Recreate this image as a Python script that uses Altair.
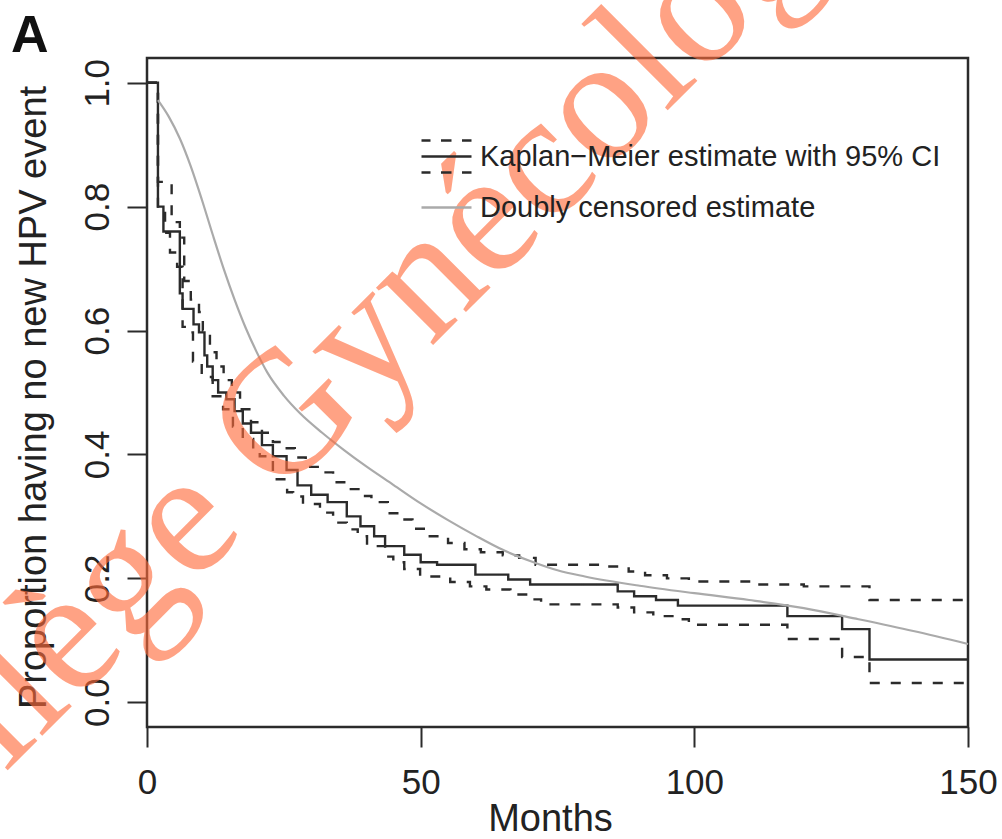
import altair as alt
import pandas as pd

KM_LABEL = "Kaplan−Meier estimate with 95% CI"
DC_LABEL = "Doubly censored estimate"

# Kaplan-Meier estimate: month of each step and the survival value after it
km_months = [0, 2, 3, 6, 6.5, 8.5, 9.5, 10.5, 11, 12, 13, 14.5, 16, 17.5, 19, 21, 23, 25.5,
             27.5, 30, 33, 36.5, 39, 41.5, 43.5, 47, 50, 53, 60, 66, 70, 86, 89, 93, 97, 117,
             127, 132, 150]
km_surv = [1.0, 0.80, 0.76, 0.66, 0.635, 0.61, 0.597, 0.56, 0.542, 0.52, 0.50, 0.489, 0.47,
           0.45, 0.435, 0.415, 0.397, 0.375, 0.35, 0.335, 0.323, 0.30, 0.284, 0.268, 0.252,
           0.238, 0.226, 0.222, 0.206, 0.198, 0.19, 0.179, 0.171, 0.165, 0.156, 0.139, 0.118,
           0.069, 0.069]

# Upper 95% confidence band
ci_hi_months = [0, 2, 4.5, 6, 6.8, 8, 9.5, 10.2, 11.5, 12.7, 14, 15.5, 17, 19, 21, 23, 25, 27,
                29, 31.5, 34, 36.5, 39, 41, 44, 46, 48.5, 51, 55, 58, 61, 65, 68, 71, 84, 88,
                91, 95, 99, 110, 120, 132, 150]
ci_hi = [1.0, 0.84, 0.775, 0.75, 0.68, 0.65, 0.63, 0.60, 0.565, 0.542, 0.52, 0.50, 0.473,
         0.452, 0.435, 0.42, 0.41, 0.395, 0.38, 0.371, 0.355, 0.344, 0.333, 0.323, 0.305,
         0.295, 0.28, 0.268, 0.257, 0.247, 0.242, 0.237, 0.233, 0.222, 0.219, 0.211, 0.205,
         0.20, 0.195, 0.19, 0.187, 0.165, 0.165]

# Lower 95% confidence band
ci_lo_months = [0, 2, 3.3, 4.2, 5.5, 6.5, 7.5, 8.4, 10, 12, 13.9, 15.7, 17.5, 19.4, 20.6, 23,
                25.6, 26.7, 28.5, 31.6, 34, 36.5, 38.5, 40.2, 43.5, 45, 47, 49.9, 55.4, 59, 62,
                66.4, 69.5, 72, 86, 89, 92.5, 96, 99, 117, 127, 132, 150]
ci_lo = [1.0, 0.79, 0.758, 0.726, 0.703, 0.606, 0.597, 0.55, 0.525, 0.494, 0.473, 0.445,
         0.425, 0.408, 0.397, 0.36, 0.339, 0.332, 0.32, 0.306, 0.29, 0.279, 0.268, 0.252,
         0.235, 0.226, 0.215, 0.203, 0.194, 0.187, 0.182, 0.174, 0.166, 0.158, 0.153, 0.145,
         0.139, 0.134, 0.125, 0.102, 0.073, 0.031, 0.031]

# Smooth doubly censored estimate
dc_months = [2, 4, 6, 8, 10, 12, 14, 16, 18, 20, 22, 25, 28, 32, 36, 40, 45, 50, 55, 60, 65,
             70, 75, 80, 90, 100, 110, 120, 130, 140, 150]
dc_surv = [0.972, 0.945, 0.91, 0.865, 0.812, 0.755, 0.70, 0.65, 0.605, 0.566, 0.532, 0.495,
           0.466, 0.435, 0.407, 0.381, 0.351, 0.321, 0.294, 0.269, 0.246, 0.228, 0.213, 0.203,
           0.188, 0.176, 0.165, 0.152, 0.134, 0.115, 0.094]

x_ticks = [0, 50, 100, 150]
y_ticks = [0.0, 0.2, 0.4, 0.6, 0.8, 1.0]

FONT = "Liberation Sans"
INK = "#2b2b2b"
GREY = "#aaaaaa"

km_df = pd.concat([
    pd.DataFrame({"month": km_months, "value": km_surv, "part": "estimate"}),
    pd.DataFrame({"month": ci_hi_months, "value": ci_hi, "part": "upper"}),
    pd.DataFrame({"month": ci_lo_months, "value": ci_lo, "part": "lower"}),
])
km_df["series"] = KM_LABEL
dc_df = pd.DataFrame({"month": dc_months, "value": dc_surv, "series": DC_LABEL})

# legend glyphs: solid line framed by two dashed lines, and a plain line
KM_PATH = ("M-1,-0.64H-0.64M-0.22,-0.64H0.2M0.62,-0.64H1"
           "M-1,0H1"
           "M-1,0.64H-0.64M-0.22,0.64H0.2M0.62,0.64H1")
DC_PATH = "M-1,0H1"

x_enc = alt.X("month:Q", scale=alt.Scale(domain=[0, 150], nice=False, zero=False),
              axis=alt.Axis(values=x_ticks, format="d", title="Months", grid=False,
                            domain=False, tickSize=20, tickWidth=2, tickColor=INK,
                            labelFont=FONT, labelFontSize=35, labelColor="#222",
                            labelBaseline="alphabetic", labelPadding=46,
                            labelFlush=False, labelOverlap=False, labelBound=False,
                            titleFont=FONT, titleFontSize=38, titleFontWeight="normal",
                            titleColor="#222", titleBaseline="alphabetic",
                            titleX=403, titleY=103, titleAlign="center"))
y_enc = alt.Y("value:Q", scale=alt.Scale(domain=[-0.04, 1.04], nice=False, zero=False),
              axis=alt.Axis(values=y_ticks, format=".1f",
                            title="Proportion having no new HPV event", grid=False,
                            domain=False, tickSize=20, tickWidth=2, tickColor=INK,
                            labelFont=FONT, labelFontSize=35, labelColor="#222",
                            labelAngle=270, labelAlign="center", labelBaseline="alphabetic",
                            labelPadding=19, labelFlush=False, labelOverlap=False,
                            titleFont=FONT, titleFontSize=38, titleFontWeight="normal",
                            titleColor="#222", titleAngle=270, titleBaseline="alphabetic",
                            titleAlign="center", titleX=-102, titleY=339))


def legend_at(y, path):
    return alt.Legend(
        title=None, orient="none", legendX=273, legendY=y, padding=0,
        symbolType=path, symbolSize=2500, symbolStrokeWidth=2.4,
        labelFont=FONT, labelFontSize=29, labelColor="#222", labelOffset=7,
        labelLimit=0,
    )


km = alt.Chart(km_df).mark_line(interpolate="step-after", strokeWidth=2.4).encode(
    x=x_enc, y=y_enc,
    stroke=alt.Stroke("series:N", scale=alt.Scale(domain=[KM_LABEL], range=[INK]),
                      legend=legend_at(72, KM_PATH)),
    strokeDash=alt.StrokeDash("part:N",
                              scale=alt.Scale(domain=["estimate", "upper", "lower"],
                                              range=[[1, 0], [10, 11], [10, 11]]),
                              legend=None),
    detail="part:N",
)

dc = alt.Chart(dc_df).mark_line(interpolate="monotone", strokeWidth=2.2).encode(
    x="month:Q", y="value:Q",
    color=alt.Color("series:N", scale=alt.Scale(domain=[DC_LABEL], range=[GREY]),
                    legend=legend_at(123, DC_PATH)),
)

panel = alt.Chart(pd.DataFrame({"t": ["A"]})).mark_text(
    font=FONT, fontSize=52, fontWeight="bold", align="left", baseline="alphabetic",
    color="#111",
).encode(x=alt.value(-136), y=alt.value(-6), text="t:N")

mark_wm = alt.Chart(pd.DataFrame({"t": ["Collège Gynécologie"]})).mark_text(
    font="Liberation Serif", fontSize=176, align="left", baseline="alphabetic",
    angle=315, color="#FF6A3A", opacity=0.62,
).encode(x=alt.value(-287), y=alt.value(860), text="t:N")

chart = alt.layer(km, dc, panel, mark_wm).properties(
    width=821, height=669,
    background="white",
    autosize=alt.AutoSizeParams(type="none"),
    padding={"left": 147, "top": 58, "right": 34, "bottom": 112},
).configure_view(stroke=INK, strokeWidth=2.5)

chart.save("out.html", embed_options={"renderer": "svg", "actions": False})
